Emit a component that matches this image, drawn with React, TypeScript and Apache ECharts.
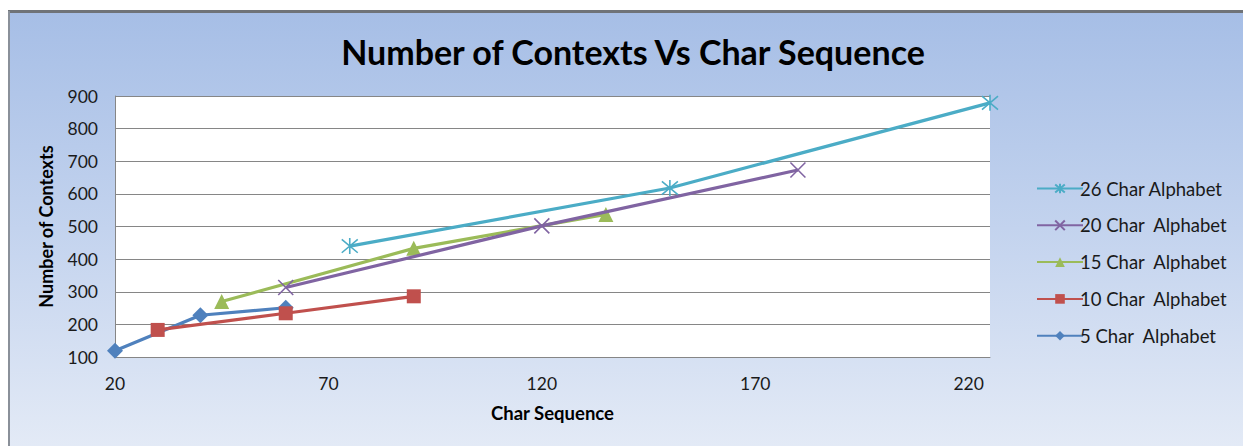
import React, { useEffect, useRef } from "react";
import * as echarts from "echarts";

const seriesNames = ["26 Char Alphabet", "20 Char  Alphabet", "15 Char  Alphabet", "10 Char  Alphabet", "5 Char  Alphabet"];
const colors = ["#4BACC6", "#8064A2", "#9BBB59", "#C0504D", "#4F81BD"];

const s26x = [75, 150, 225];
const s26y = [440, 618, 879];
const s20x = [60, 120, 180];
const s20y = [313, 502, 673];
const s15x = [45, 90, 135];
const s15y = [270, 433, 537];
const s10x = [30, 60, 90];
const s10y = [183, 234, 286];
const s5x = [20, 40, 60];
const s5y = [119, 228, 251];

const xTickLabels = [20, 70, 120, 170, 220];
const yTicks = [100, 200, 300, 400, 500, 600, 700, 800, 900];

const FONT = "Lato, 'Noto Sans', sans-serif";

const ASTER = "path://M0 0 L10 10 M10 0 L0 10 M5 -1 L5 11";
const CROSS = "path://M0 0 L10 10 M10 0 L0 10";

export default function App() {
  const ref = useRef<HTMLDivElement>(null);
  useEffect(() => {
    if (!ref.current) return;
    const chart = echarts.init(ref.current, undefined, { renderer: "svg" });
    const xs = [s26x, s20x, s15x, s10x, s5x];
    const ys = [s26y, s20y, s15y, s10y, s5y];
    const symbols = [ASTER, CROSS, "triangle", "rect", "diamond"];
    const sizes = [16, 15, 15, 14, 16];
    const series = seriesNames.map((name, i) => {
      const stroke = i < 2;
      return {
        name,
        type: "line",
        data: xs[i].map((x, j) => [x, ys[i][j]]),
        symbol: symbols[i],
        symbolSize: sizes[i],
        showSymbol: true,
        lineStyle: { color: colors[i], width: 3.2 },
        itemStyle: stroke
          ? { color: colors[i], borderColor: colors[i], borderWidth: 1.6 }
          : { color: colors[i], borderWidth: 0 },
        z: 10 - i,
      };
    });
    chart.setOption({
      animation: false,
      backgroundColor: "#ffffff",
      title: {
        text: "Number of Contexts Vs Char Sequence",
        left: 628,
        textAlign: "center",
        top: 29,
        textStyle: { fontFamily: FONT, fontWeight: "bold", fontSize: 34, color: "#000" },
      },
      graphic: [
        {
          type: "rect",
          z: -100,
          silent: true,
          shape: { x: 8, y: 11, width: 1235, height: 435 },
          style: {
            fill: new echarts.graphic.LinearGradient(0, 0, 0, 1, [
              { offset: 0, color: "#a6bee6" },
              { offset: 0.5, color: "#c3d3ee" },
              { offset: 1, color: "#e3eaf6" },
            ]),
          },
        },
        {
          type: "line",
          z: -99,
          silent: true,
          shape: { x1: 8, y1: 11.5, x2: 1243, y2: 11.5 },
          style: { stroke: "#6f7378", lineWidth: 3 },
        },
        {
          type: "line",
          z: -99,
          silent: true,
          shape: { x1: 9, y1: 11, x2: 9, y2: 446 },
          style: { stroke: "#8a9099", lineWidth: 2 },
        },
      ],
      legend: {
        orient: "vertical",
        left: 1031,
        top: 174,
        itemGap: 17.8,
        itemWidth: 46,
        itemHeight: 12,
        data: seriesNames,
        textStyle: { fontFamily: FONT, fontSize: 18.5, color: "#1a1a1a", padding: [0, 0, 0, -8] },
      },
      grid: {
        left: 115,
        right: 253,
        top: 96,
        bottom: 89,
        show: true,
        backgroundColor: "#ffffff",
        borderWidth: 0,
      },
      xAxis: {
        type: "value",
        min: 20,
        max: 225,
        interval: 10,
        name: "Char Sequence",
        nameLocation: "middle",
        nameGap: 46,
        nameTextStyle: { fontFamily: FONT, fontWeight: "bold", fontSize: 18.5, color: "#000" },
        axisLine: { show: true, lineStyle: { color: "#868686", width: 1 } },
        axisTick: { show: false },
        splitLine: { show: false },
        axisLabel: {
          fontFamily: FONT,
          fontSize: 17.5,
          color: "#1a1a1a",
          margin: 17,
          formatter: (v: number) => (xTickLabels.indexOf(v) >= 0 ? String(v) : ""),
        },
      },
      yAxis: {
        type: "value",
        min: yTicks[0],
        max: yTicks[yTicks.length - 1],
        interval: 100,
        name: "Number of Contexts",
        nameLocation: "middle",
        nameGap: 60,
        nameTextStyle: { fontFamily: FONT, fontWeight: "bold", fontSize: 18, color: "#000" },
        axisLine: { show: true, lineStyle: { color: "#868686", width: 1 } },
        axisTick: { show: false },
        splitLine: { show: true, lineStyle: { color: "#868686", width: 1 } },
        axisLabel: { fontFamily: FONT, fontSize: 17.5, color: "#1a1a1a", margin: 17 },
      },
      series,
    });
    return () => chart.dispose();
  }, []);
  return (
    <div
      ref={ref}
      style={{ position: "absolute", left: 0, top: 0, width: 1243, height: 446 }}
    />
  );
}
